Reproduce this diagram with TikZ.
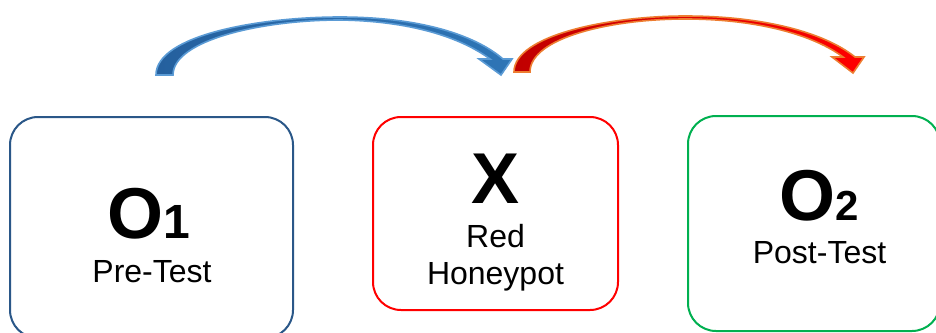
\documentclass[tikz,border=0pt]{standalone}
\usepackage{fontspec}
\setmainfont{Liberation Sans}
\definecolor{boxblue}{HTML}{2A5788}
\definecolor{boxred}{HTML}{FF0000}
\definecolor{boxgreen}{HTML}{00B050}
\definecolor{arrblueL}{HTML}{25609E}
\definecolor{arrblueR}{HTML}{2E75B6}
\definecolor{arrblueline}{HTML}{5B9BD5}
\definecolor{arrredL}{HTML}{C00000}
\definecolor{arrredR}{HTML}{FF0000}
\definecolor{arrredline}{HTML}{ED7D31}
\tikzset{
  stagebox/.style={draw, line width=2pt, rounded corners=28pt, fill=white, inner sep=0pt},
  bigtxt/.style={anchor=base, inner sep=0pt, font=\fontsize{72}{72}\selectfont\bfseries},
  smalltxt/.style={anchor=base, inner sep=0pt, font=\fontsize{32}{32}\selectfont},
  bluearrow/.style={line width=1.6pt, draw=arrblueline, left color=arrblueL, right color=arrblueR, line join=miter},
  redarrow/.style={line width=1.6pt, draw=arrredline, left color=arrredL, right color=arrredR, line join=miter}
}
\begin{document}
\begin{tikzpicture}[x=1pt,y=-1pt]
\useasboundingbox (0,0) rectangle (936,332);
% boxes
\node[stagebox, draw=boxblue, minimum width=283pt, minimum height=221pt] (b1) at (151.5,227.5) {};
\node[stagebox, draw=boxred, minimum width=245pt, minimum height=193pt] (b2) at (495.5,213.5) {};
\node[stagebox, draw=boxgreen, minimum width=252pt, minimum height=215pt] (b3) at (814,223.5) {};
% texts
\node[bigtxt] (t1) at (149,238) {O{\fontsize{48}{48}\selectfont 1}};
\node[smalltxt] (s1) at (152,282) {Pre-Test};
\node[bigtxt] (t2) at (495.5,203) {X};
\node[smalltxt] (s2a) at (495.5,247) {Red};
\node[smalltxt] (s2b) at (495.5,284) {Honeypot};
\node[bigtxt] (t3) at (819,220) {O{\fontsize{42}{42}\selectfont 2}};
\node[smalltxt] (s3) at (819.5,263) {Post-Test};
% curved block arrows
\coordinate (a1s) at (156,75);
\coordinate (a1t) at (501,75);
\coordinate (a2s) at (514,72);
\coordinate (a2t) at (853,73);
\path[bluearrow] (a1s) .. controls (156,35) and (260,17) .. (340,17)
  .. controls (420,17) and (475,35) .. (503,59)
  -- (512,59) -- (a1t) -- (479,59) -- (490,59)
  .. controls (460,37) and (410,21) .. (340,20)
  .. controls (262,20) and (173,40) .. (173,75) -- cycle;
\path[redarrow] (a2s) .. controls (514,35) and (610,16) .. (685,16)
  .. controls (765,16) and (825,33) .. (855,57)
  -- (864,57) -- (a2t) -- (832,57) -- (843,57)
  .. controls (815,36) and (760,19) .. (685,19)
  .. controls (610,19) and (530,38) .. (530,72) -- cycle;
\end{tikzpicture}
\end{document}
